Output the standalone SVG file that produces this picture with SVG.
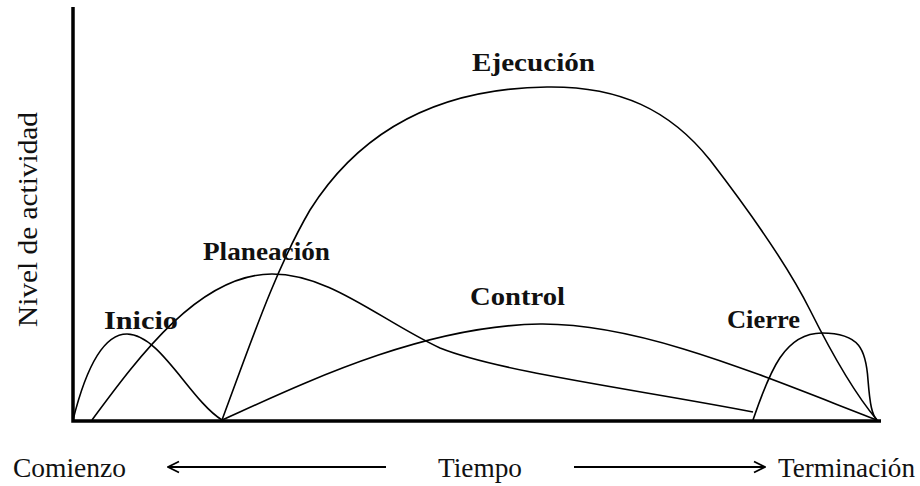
<svg xmlns="http://www.w3.org/2000/svg" width="920" height="486" viewBox="0 0 920 486">
<style>
.curve{fill:none;stroke:#000;stroke-width:1.6}
.axis{fill:none;stroke:#000;stroke-width:3.5}
.lbl{font-family:"Liberation Serif","DejaVu Serif",serif;font-weight:bold;font-size:26px;fill:#111}
.ax{font-family:"Liberation Serif","DejaVu Serif",serif;font-size:27px;fill:#111}
.arr{stroke:#000;stroke-width:2;fill:none}
</style>
<defs>
<marker id="ah" viewBox="0 0 14 14" refX="13" refY="7" markerWidth="14" markerHeight="14" markerUnits="userSpaceOnUse" orient="auto-start-reverse">
<path d="M2,1.5 L13,7 L2,12.5" fill="none" stroke="#000" stroke-width="1.8"/>
</marker>
</defs>
<rect width="920" height="486" fill="#fff"/>
<g id="axes">
<path class="axis" d="M73,7 L73,421 L881,421"/>
</g>
<g id="connectors">
<path id="inicio-curve" class="curve" d="M73,420 C86,368 104,334 127,334 C160,334 190,400 222,420"/>
<path id="planeacion-curve" class="curve" d="M92,420 C140,355 200,274 272,274 C330,274 380,320 440,348 C500,372 640,390 753,412"/>
<path id="ejecucion-curve" class="curve" d="M222,420 C250,345 275,270 310,210 C370,115 460,88 547,87 C620,86 670,110 710,160 C760,225 790,270 810,310 C840,370 860,400 877,420"/>
<path id="control-curve" class="curve" d="M222,420 C300,385 420,326 540,324 C640,323 760,375 877,420"/>
<path id="cierre-curve" class="curve" d="M753,420 C770,370 785,333 822,333 C860,333 866,350 868,380 C870,405 872,415 877,420"/>
<path class="arr" d="M386,467 L168,467" marker-end="url(#ah)"/>
<path class="arr" d="M574,467 L765,467" marker-end="url(#ah)"/>
</g>
<g id="inicio"><text class="lbl" x="104" y="329" textLength="74" lengthAdjust="spacingAndGlyphs">Inicio</text></g>
<g id="planeacion"><text class="lbl" x="203" y="260" textLength="127" lengthAdjust="spacingAndGlyphs">Planeación</text></g>
<g id="ejecucion"><text class="lbl" x="472" y="71" textLength="123" lengthAdjust="spacingAndGlyphs">Ejecución</text></g>
<g id="control"><text class="lbl" x="470" y="305" textLength="95" lengthAdjust="spacingAndGlyphs">Control</text></g>
<g id="cierre"><text class="lbl" x="727" y="328" textLength="73" lengthAdjust="spacingAndGlyphs">Cierre</text></g>
<g id="labels">
<text class="ax" x="13" y="477" textLength="113" lengthAdjust="spacingAndGlyphs">Comienzo</text>
<text class="ax" x="438" y="477" textLength="84" lengthAdjust="spacingAndGlyphs">Tiempo</text>
<text class="ax" x="778" y="477" textLength="137" lengthAdjust="spacingAndGlyphs">Terminación</text>
<text class="ax" transform="translate(37,327) rotate(-90)" x="0" y="0" textLength="215" lengthAdjust="spacingAndGlyphs">Nivel de actividad</text>
</g>
</svg>
